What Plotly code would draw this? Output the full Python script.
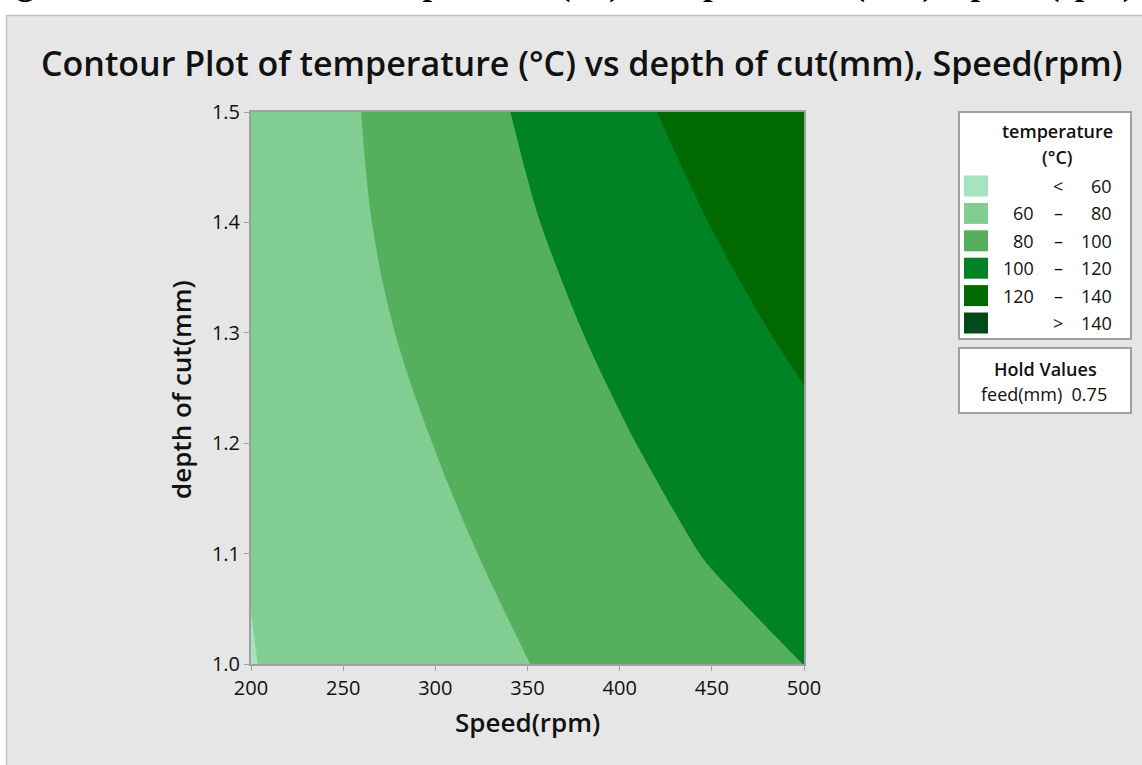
import plotly.graph_objects as go

# Speed (rpm) grid, depth of cut (mm) grid, and fitted temperature (°C) at each node
speed_rpm = [200, 250, 300, 350, 400, 450, 500]
depth_mm = [1.0, 1.1, 1.2, 1.3, 1.4, 1.5]
temp_d100 = [59.5, 66.4, 73.1, 79.8, 86.6, 93.4, 100.1]
temp_d110 = [60.6, 67.9, 76.2, 84.5, 92.8, 101.1, 109.4]
temp_d120 = [62.3, 71.3, 80.3, 89.4, 98.4, 107.4, 116.0]
temp_d130 = [64.7, 74.5, 84.3, 94.1, 103.9, 113.8, 123.6]
temp_d140 = [65.6, 76.6, 87.5, 98.5, 109.3, 120.4, 131.4]
temp_d150 = [65.1, 77.6, 89.9, 102.3, 114.9, 127.5, 139.5]
temperature = [temp_d100, temp_d110, temp_d120, temp_d130, temp_d140, temp_d150]

# Contour bands and legend labels
band_left = ["", "60", "80", "100", "120", ""]
band_sym = ["<", "–", "–", "–", "–", ">"]
band_right = ["60", "80", "100", "120", "140", "140"]
band_colors = ["#a6e3bf", "#82cd91", "#54b05c", "#008225", "#006900", "#004b17"]

hold_name = "feed(mm)"
hold_value = "0.75"

x_ticks = [200, 250, 300, 350, 400, 450, 500]
y_ticks = [1.0, 1.1, 1.2, 1.3, 1.4, 1.5]

W, H = 1142, 765
L, R, T, B = 251, 804, 112, 664  # plot area in pixels


def px(xpix):
    return (xpix - L) / (R - L)


def py(ypix):
    return (B - ypix) / (B - T)


# stepped colorscale: one flat colour per band
stops = [0.0, 0.1, 0.3, 0.5, 0.7, 0.9, 1.0]
colorscale = []
for i, c in enumerate(band_colors):
    colorscale.append([stops[i], c])
    colorscale.append([stops[i + 1], c])

FONT = "Open Sans"
INK = "#111111"

fig = go.Figure()
fig.add_trace(go.Contour(
    x=speed_rpm, y=depth_mm, z=temperature,
    contours=dict(start=60, end=140, size=20, coloring="fill", showlines=False),
    line=dict(width=0, smoothing=1.0),
    colorscale=colorscale, showscale=False, hoverinfo="skip",
))

shapes = []
annotations = []

# outer frame
shapes.append(dict(type="rect", xref="paper", yref="paper",
                   x0=px(-20), x1=px(W + 20), y0=py(-20), y1=py(15),
                   fillcolor="white", line=dict(width=0), layer="below"))
shapes.append(dict(type="rect", xref="paper", yref="paper",
                   x0=px(-20), x1=px(6), y0=py(H + 20), y1=py(15),
                   fillcolor="white", line=dict(width=0), layer="below"))
shapes.append(dict(type="line", xref="paper", yref="paper",
                   x0=px(6.5), x1=px(6.5), y0=py(H + 20), y1=py(15),
                   line=dict(color="#c4c4c4", width=1.5), layer="below"))
shapes.append(dict(type="line", xref="paper", yref="paper",
                   x0=px(6), x1=px(W + 20), y0=py(15.5), y1=py(15.5),
                   line=dict(color="#c4c4c4", width=1.5), layer="below"))

# caption running above the frame (only its lowest strokes fall on the page)
annotations.append(dict(
    text="<b>Figure 6: Contour Plot of temperature (°C) vs depth of cut (mm), Speed (rpm)</b>",
    xref="paper", yref="paper", x=px(-16), y=py(5), xanchor="left", yanchor="bottom",
    showarrow=False, font=dict(family="Liberation Serif", size=34.5, color="black")))

# title
annotations.append(dict(
    text="Contour Plot of temperature (°C) vs depth of cut(mm), Speed(rpm)",
    xref="paper", yref="paper", x=px(581), y=py(63), xanchor="center", yanchor="middle",
    showarrow=False, font=dict(family=FONT, size=34, weight=600, color=INK)))

# axis titles
annotations.append(dict(
    text="Speed(rpm)", xref="paper", yref="paper", x=px(527), y=py(722),
    xanchor="center", yanchor="middle", showarrow=False,
    font=dict(family=FONT, size=26, weight=600, color=INK)))
annotations.append(dict(
    text="depth of cut(mm)", xref="paper", yref="paper", x=px(181), y=py(390),
    xanchor="center", yanchor="middle", textangle=-90, showarrow=False,
    font=dict(family=FONT, size=26, weight=600, color=INK)))

# legend boxes
BX0, BX1 = 959, 1131
shapes.append(dict(type="rect", xref="paper", yref="paper",
                   x0=px(BX0), x1=px(BX1), y0=py(339), y1=py(112),
                   fillcolor="white", line=dict(color="#a0a0a0", width=2)))
shapes.append(dict(type="rect", xref="paper", yref="paper",
                   x0=px(BX0), x1=px(BX1), y0=py(413), y1=py(348),
                   fillcolor="white", line=dict(color="#a0a0a0", width=2)))

lfont = dict(family=FONT, size=18, weight=500, color=INK)
lfont_b = dict(family=FONT, size=18, weight=600, color=INK)
annotations.append(dict(text="temperature", xref="paper", yref="paper",
                        x=px(1057), y=py(131), xanchor="center", yanchor="middle",
                        showarrow=False, font=lfont_b))
annotations.append(dict(text="(°C)", xref="paper", yref="paper",
                        x=px(1057), y=py(157), xanchor="center", yanchor="middle",
                        showarrow=False, font=lfont_b))

row_y = [186, 213.4, 240.8, 268.2, 295.6, 323]
for i, c in enumerate(band_colors):
    yc = row_y[i]
    shapes.append(dict(type="rect", xref="paper", yref="paper",
                       x0=px(964), x1=px(988), y0=py(yc + 10.5), y1=py(yc - 10.5),
                       fillcolor=c, line=dict(width=0)))
    if band_left[i]:
        annotations.append(dict(text=band_left[i], xref="paper", yref="paper",
                                x=px(1036), y=py(yc), xanchor="right", yanchor="middle",
                                showarrow=False, font=lfont))
    annotations.append(dict(text=band_sym[i], xref="paper", yref="paper",
                            x=px(1058), y=py(yc), xanchor="center", yanchor="middle",
                            showarrow=False, font=lfont))
    annotations.append(dict(text=band_right[i], xref="paper", yref="paper",
                            x=px(1114), y=py(yc), xanchor="right", yanchor="middle",
                            showarrow=False, font=lfont))

annotations.append(dict(text="Hold Values", xref="paper", yref="paper",
                        x=px(1045), y=py(369), xanchor="center", yanchor="middle",
                        showarrow=False, font=lfont_b))
annotations.append(dict(text=f"{hold_name}  {hold_value}", xref="paper", yref="paper",
                        x=px(1044), y=py(394), xanchor="center", yanchor="middle",
                        showarrow=False, font=lfont))

axis_common = dict(
    showgrid=False, zeroline=False, showline=True, linecolor="#a0a0a0", linewidth=2,
    mirror=True, ticks="outside", ticklen=5, tickwidth=1, tickcolor="#a0a0a0",
    tickfont=dict(family=FONT, size=20, weight=500, color=INK),
)

fig.update_layout(
    width=W, height=H,
    margin=dict(l=L, r=W - R, t=T, b=H - B, pad=0),
    paper_bgcolor="#e6e6e6", plot_bgcolor="#e6e6e6",
    xaxis=dict(range=[200, 500], tickvals=x_ticks, ticktext=[str(v) for v in x_ticks], **axis_common),
    yaxis=dict(range=[1.0, 1.5], tickvals=y_ticks, ticktext=[f"{v:.1f}" for v in y_ticks], **axis_common),
    shapes=shapes, annotations=annotations, showlegend=False,
)

fig.write_html("out.html")
